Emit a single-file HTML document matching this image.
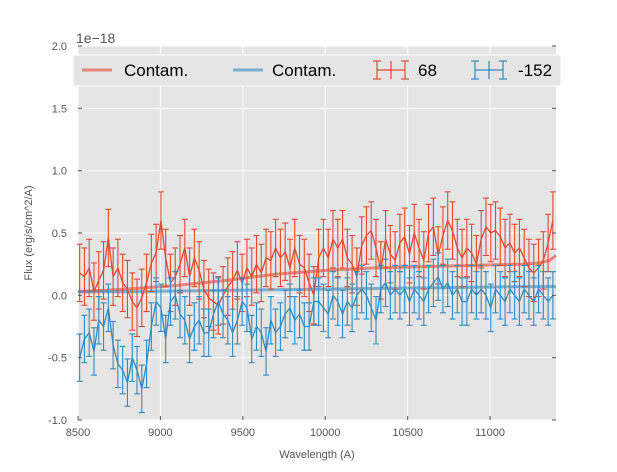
<!DOCTYPE html>
<html><head><meta charset="utf-8"><style>
body{margin:0;background:#fff;font-family:"Liberation Sans",sans-serif}
svg text{font-family:"Liberation Sans",sans-serif}
</style></head><body>
<svg id="c" width="617" height="467" xmlns="http://www.w3.org/2000/svg">
<rect x="78" y="46" width="478" height="374" fill="#E5E5E5"/>
<g id="grid"></g><g id="marks"></g><g id="axes"></g>
<text x="76" y="43" font-size="14" fill="#555">1e−18</text>
<text x="317" y="458" font-size="11" fill="#555" text-anchor="middle">Wavelength (A)</text>
<text x="32" y="233" font-size="11" fill="#555" text-anchor="middle" transform="rotate(-90 32 233)">Flux (erg/s/cm^2/A)</text>
<g>
<rect x="73" y="55" width="488" height="31" fill="#E5E5E5" stroke="#fff" stroke-width="1"/>
<line x1="82" y1="70" x2="112" y2="70" stroke="#E24A33" stroke-opacity="0.6" stroke-width="3"/>
<text x="124" y="76" font-size="17" fill="#000">Contam.</text>
<line x1="233" y1="70" x2="263" y2="70" stroke="#348ABD" stroke-opacity="0.6" stroke-width="3"/>
<text x="272" y="76" font-size="17" fill="#000">Contam.</text>
<g stroke="#E24A33" stroke-width="1.2"><line x1="377" y1="70" x2="405" y2="70"/><line x1="377" y1="61" x2="377" y2="79"/><line x1="405" y1="61" x2="405" y2="79"/><line x1="391" y1="61" x2="391" y2="79"/><line x1="373" y1="61" x2="381" y2="61"/><line x1="373" y1="79" x2="381" y2="79"/><line x1="401" y1="61" x2="409" y2="61"/><line x1="401" y1="79" x2="409" y2="79"/></g>
<text x="418" y="76" font-size="17" fill="#000">68</text>
<g stroke="#348ABD" stroke-width="1.2"><line x1="475" y1="70" x2="503" y2="70"/><line x1="475" y1="61" x2="475" y2="79"/><line x1="503" y1="61" x2="503" y2="79"/><line x1="489" y1="61" x2="489" y2="79"/><line x1="471" y1="61" x2="479" y2="61"/><line x1="471" y1="79" x2="479" y2="79"/><line x1="499" y1="61" x2="507" y2="61"/><line x1="499" y1="79" x2="507" y2="79"/></g>
<text x="518" y="76" font-size="17" fill="#000">-152</text>
</g>
</svg>
<script>
const xTicks=[8500,9000,9500,10000,10500,11000];
const yTicks=[-1.0,-0.5,0.0,0.5,1.0,1.5,2.0];
const wlStart=8510, wlStep=29;
const redFlux=[0.18,0.15,0.22,0.03,0.12,0.2,0.46,0.15,0.22,0.1,0.05,-0.05,-0.1,-0.02,0.1,0.26,0.34,0.6,0.3,0.1,0.15,0.25,0.38,0.15,0.3,0.2,0.05,-0.02,-0.05,-0.08,0.0,0.07,0.12,0.2,0.1,0.22,0.15,0.25,0.18,0.3,0.28,0.38,0.3,0.35,0.22,0.38,0.25,0.22,0.1,0.0,0.3,0.38,0.3,0.45,0.38,0.45,0.3,0.25,0.15,0.4,0.48,0.52,0.38,0.2,0.45,0.33,0.28,0.42,0.47,0.33,0.5,0.38,0.28,0.5,0.55,0.32,0.48,0.6,0.52,0.38,0.3,0.38,0.34,0.25,0.45,0.55,0.5,0.52,0.47,0.38,0.42,0.34,0.38,0.3,0.22,0.18,0.22,0.28,0.42,0.6];
const blueFlux=[-0.5,-0.35,-0.3,-0.45,-0.2,-0.25,-0.1,-0.4,-0.55,-0.6,-0.7,-0.5,-0.6,-0.75,-0.55,-0.25,-0.05,-0.1,-0.35,-0.05,0.0,-0.15,-0.2,-0.35,-0.25,-0.2,-0.3,-0.3,-0.15,-0.05,-0.15,-0.2,-0.3,-0.2,-0.05,-0.1,-0.35,-0.25,-0.3,-0.45,-0.2,-0.3,-0.25,-0.15,-0.1,-0.2,-0.15,-0.25,-0.25,-0.05,-0.05,-0.1,-0.15,0.0,-0.05,-0.15,-0.05,-0.1,0.0,0.05,0.0,-0.1,-0.2,0.05,0.1,0.0,0.05,0.0,0.05,-0.05,0.05,0.0,-0.05,0.05,0.1,0.15,0.05,0.1,0.0,0.05,-0.05,-0.05,0.05,0.0,0.05,0.0,-0.1,0.05,0.0,-0.05,0.05,0.0,-0.05,0.05,0.0,-0.05,0.05,0.0,-0.05,0.0];
const redErr=0.23, blueErr=0.19;
const contamWl=[8500,8800,9100,9400,9700,10000,10300,10600,10900,11200,11300,11360,11400];
const contamRed=[0.03,0.05,0.08,0.12,0.17,0.2,0.22,0.23,0.24,0.25,0.26,0.28,0.32];
const contamBlue=[0.03,0.03,0.035,0.04,0.045,0.05,0.055,0.06,0.065,0.07,0.07,0.07,0.07];
const X0=78,X1=556,Y0=46,Y1=420,xmin=8500,xmax=11400,ymin=-1,ymax=2;
const xs=v=>X0+(v-xmin)/(xmax-xmin)*(X1-X0);
const ys=v=>Y1-(v-ymin)/(ymax-ymin)*(Y1-Y0);
const NS='http://www.w3.org/2000/svg';
function mk(t,a,p){const e=document.createElementNS(NS,t);for(const k in a)e.setAttribute(k,a[k]);p.appendChild(e);return e;}
const grid=document.getElementById('grid'),marks=document.getElementById('marks'),axes=document.getElementById('axes');
xTicks.forEach(t=>{const x=xs(t);
const g=mk('line',{x1:x,x2:x,y1:Y0,y2:Y1,stroke:'#fff','stroke-width':1},grid);


mk('line',{x1:x,x2:x,y1:Y1,y2:Y1-4,stroke:'#555'},axes);
const tx=mk('text',{x:x,y:Y1+16,'font-size':11,fill:'#555','text-anchor':'middle'},axes);tx.textContent=t;

});
yTicks.forEach(t=>{const y=ys(t);
const g=mk('line',{x1:X0,x2:X1,y1:y,y2:y,stroke:'#fff','stroke-width':1},grid);


mk('line',{x1:X0,x2:X0+4,y1:y,y2:y,stroke:'#555'},axes);
mk('line',{x1:X1,x2:X1-4,y1:y,y2:y,stroke:'#555'},axes);
const tx=mk('text',{x:X0-11,y:y+4,'font-size':11,fill:'#555','text-anchor':'end'},axes);tx.textContent=t.toFixed(1);

});
function contam(arr,col,name){const d=arr.map((v,i)=>(i?'L':'M')+xs(contamWl[i])+','+ys(v)).join('');
const p=mk('path',{d:d,fill:'none',stroke:col,'stroke-opacity':0.6,'stroke-width':3},marks);

}
function series(arr,err,col,name){const g=mk('g',{stroke:col,'stroke-width':1.1,fill:'none'},marks);


let d='';arr.forEach((v,i)=>{const x=xs(wlStart+i*wlStep);d+=(i?'L':'M')+x+','+ys(v);
mk('line',{x1:x,x2:x,y1:ys(v-err),y2:ys(v+err)},g);
mk('line',{x1:x-3,x2:x+3,y1:ys(v-err),y2:ys(v-err)},g);
mk('line',{x1:x-3,x2:x+3,y1:ys(v+err),y2:ys(v+err)},g);});
mk('path',{d:d,'stroke-width':1.3},g);}
contam(contamRed,'#E24A33','contam-red-line');
contam(contamBlue,'#348ABD','contam-blue-line');
series(redFlux,redErr,'#E24A33','series-68');
series(blueFlux,blueErr,'#348ABD','series-minus152');
</script>
</body></html>
